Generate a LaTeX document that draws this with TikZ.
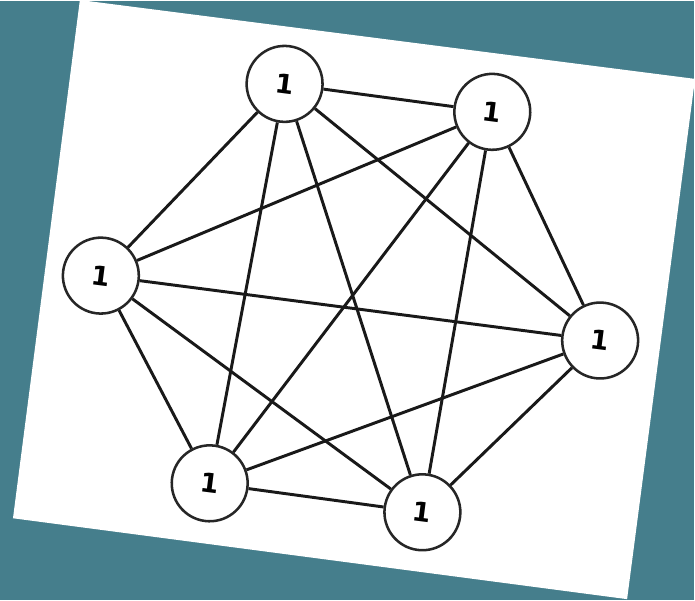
\documentclass[tikz,border=0pt]{standalone}
\usepackage{fontspec}
\setmainfont{DejaVu Sans}
\definecolor{deskteal}{RGB}{69,126,140}
\tikzset{vertex/.style={circle,draw=black!85,line width=1.8pt,fill=white,minimum size=1.9cm,inner sep=0pt,font=\fontsize{19}{19}\selectfont\bfseries,rotate=-7.3},
  link/.style={draw=black!90,line width=2.1pt}}

\begin{document}
\begin{tikzpicture}[x=0.025cm,y=-0.025cm]

% backdrop and the tilted sheet
\fill[deskteal] (0,0) rectangle (695,600);
\fill[white] (80,-1) -- (696,78) -- (628,599) -- (13,518) -- cycle;

\node[vertex] (v1) at (285,83) {1};
\node[vertex] (v2) at (493,111) {1};
\node[vertex] (v3) at (101,275) {1};
\node[vertex] (v4) at (601,340) {1};
\node[vertex] (v5) at (210,483) {1};
\node[vertex] (v6) at (423,512) {1};

% every pair is joined
\foreach \a/\b in {v1/v2,v1/v3,v1/v4,v1/v5,v1/v6,v2/v3,v2/v4,v2/v5,v2/v6,v3/v4,v3/v5,v3/v6,v4/v5,v4/v6,v5/v6}
  \draw[link] (\a) -- (\b);

\end{tikzpicture}
\end{document}
